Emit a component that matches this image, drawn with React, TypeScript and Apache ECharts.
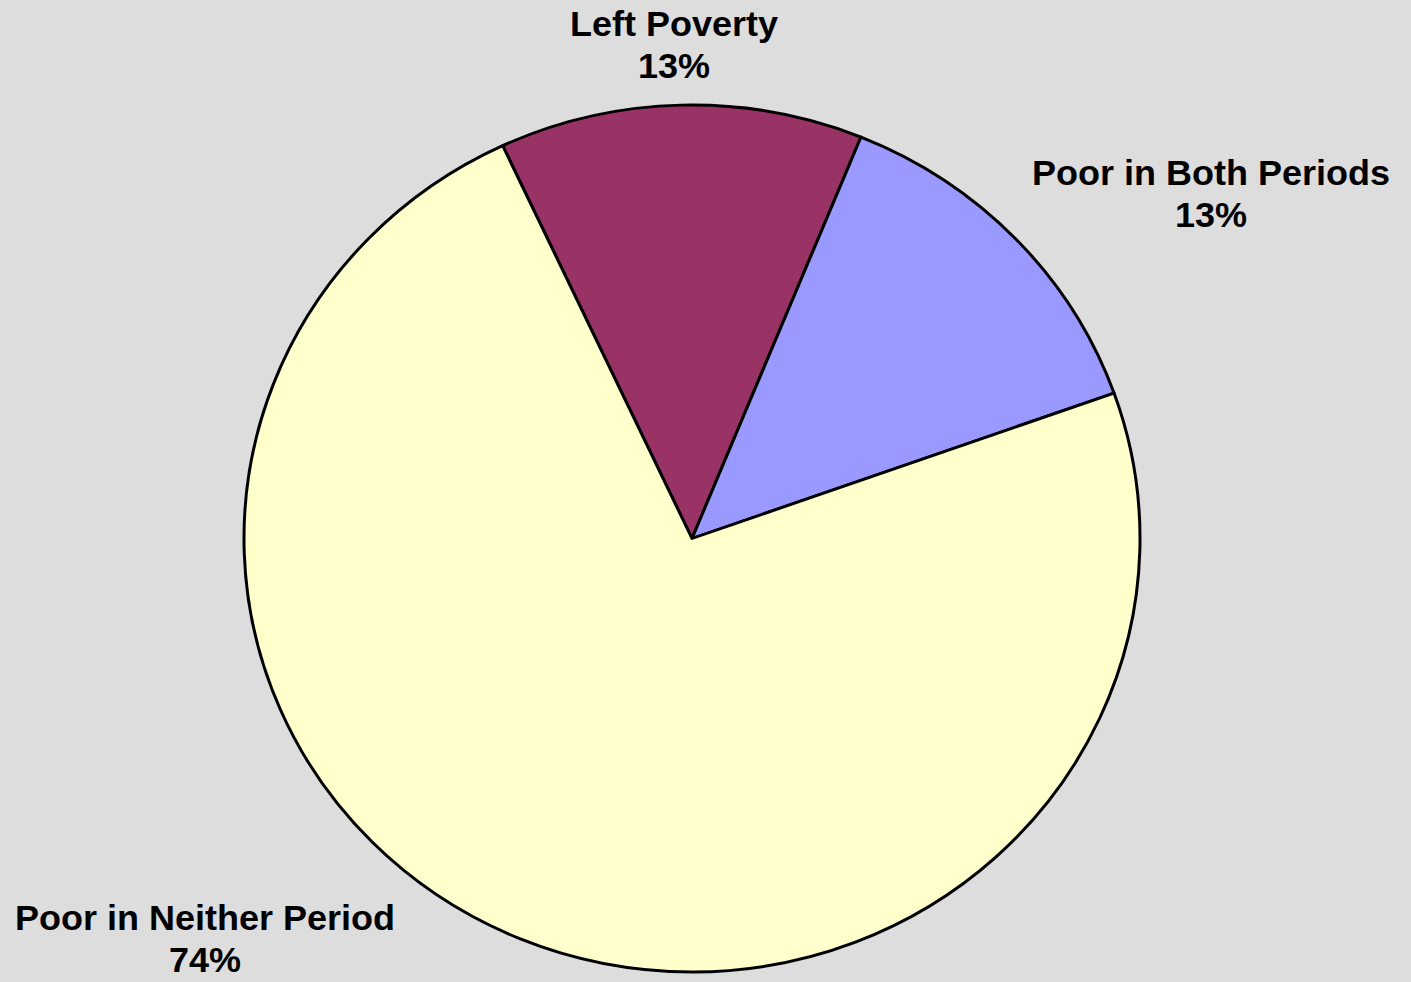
import React, { useEffect, useRef } from "react";
import * as echarts from "echarts";

const categories = ["Left Poverty", "Poor in Both Periods", "Poor in Neither Period"];
const shares = [13.1, 13.4, 73.5];
const colors = ["#993366", "#9999FF", "#FFFFCC"];

// The reference pie is slightly flattened vertically
const SQUISH = 0.9676;
const W = 1411;
const H = 982;

const labelCenters: [number, number][] = [
  [674, 45],
  [1211, 194],
  [205, 939],
];

export default function App() {
  const ref = useRef<HTMLDivElement>(null);
  useEffect(() => {
    if (!ref.current) return;
    const chart = echarts.init(ref.current, undefined, { renderer: "svg" });
    chart.setOption({
      animation: false,
      backgroundColor: "#DDDDDD",
      series: [
        {
          type: "pie",
          center: [692, 538.5 / SQUISH],
          radius: 448,
          startAngle: 115,
          clockwise: true,
          avoidLabelOverlap: false,
          data: categories.map((name, i) => ({
            name,
            value: shares[i],
            itemStyle: { color: colors[i] },
          })),
          itemStyle: { borderColor: "#000000", borderWidth: 3 },
          emphasis: { disabled: true },
          label: {
            show: true,
            position: "outside",
            formatter: (p: any) => `${p.name}\n${Math.round(p.percent + 1e-6)}%`,
            fontFamily: "'Liberation Sans', Arial, sans-serif",
            fontWeight: "bold",
            fontSize: 36,
            lineHeight: 43.4,
            color: "#000000",
            align: "center",
          },
          labelLine: { show: false },
          labelLayout: (params: any) => {
            const c = labelCenters[params.dataIndex];
            return { x: c[0], y: c[1] / SQUISH, align: "center", verticalAlign: "middle" };
          },
        },
      ],
    });
    return () => chart.dispose();
  }, []);
  return (
    <div style={{ position: "fixed", left: 0, top: 0, width: W, height: H, overflow: "hidden", background: "#DDDDDD" }}>
      <div
        ref={ref}
        style={{
          width: W,
          height: H / SQUISH,
          transform: `scaleY(${SQUISH})`,
          transformOrigin: "0 0",
        }}
      />
    </div>
  );
}
